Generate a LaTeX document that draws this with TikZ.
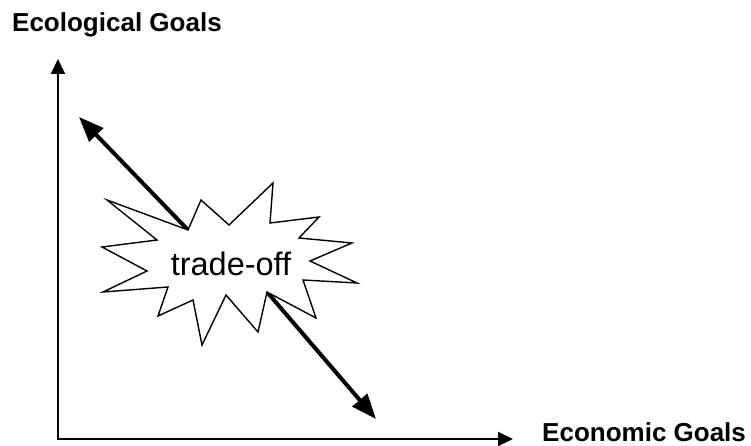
\documentclass[tikz,border=0pt]{standalone}
\usepackage{fontspec}
\setmainfont{Liberation Sans}
\usetikzlibrary{arrows.meta}
\tikzset{
  axis/.style={line width=2pt, -{Triangle[length=15pt,width=14pt]}},
  bigarrow/.style={line width=4pt, -{Triangle[length=25pt,width=19pt]}},
  burst/.style={draw=black, fill=white, line width=1.4pt, line join=miter},
  axislabel/.style={font=\fontsize{26}{30}\selectfont\bfseries, inner sep=0pt, anchor=base west},
  burstlabel/.style={font=\fontsize{32.5}{38}\selectfont, inner sep=0pt, anchor=base}
}
\begin{document}
\begin{tikzpicture}[x=1pt,y=-1pt]
\useasboundingbox (0,0) rectangle (751,446);
% axes
\coordinate (origin) at (58,439);
\coordinate (ytip) at (58,59);
\coordinate (xtip) at (513,439);
\draw[axis] ([yshift=1pt]origin) -- (ytip);
\draw[axis] ([xshift=-1pt]origin) -- (xtip);
\node[axislabel] (ylab) at (12,32) {Ecological Goals};
\node[axislabel] (xlab) at (542,441.5) {Economic Goals};
% starburst vertices
\coordinate (in1) at (188,230);
\coordinate (in7) at (267,292);
\coordinate (tipNW) at (79,117);
\coordinate (tipSE) at (376,419);
\draw[bigarrow] (in1) -- (tipNW);
\draw[bigarrow] (in7) -- (tipSE);
\draw[burst] (107,200) -- (in1) -- (201,200) -- (229,225) -- (273,183) -- (270,223)
  -- (319,217) -- (299,238) -- (352,243) -- (310,261) -- (357,283) -- (303,280)
  -- (316,318) -- (in7) -- (258,332) -- (226,295) -- (202,345) -- (193,300)
  -- (158,316) -- (168,287) -- (103,292) -- (147,271) -- (102,247) -- (157,240) -- cycle;
\node[burstlabel] (trade) at (231,275) {trade-off};
\end{tikzpicture}
\end{document}
